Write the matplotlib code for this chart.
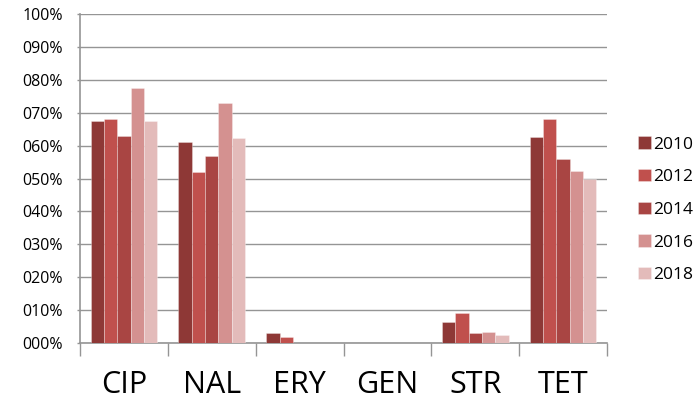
import numpy as np
import matplotlib
matplotlib.use('Agg')
import matplotlib.pyplot as plt
from matplotlib.ticker import FuncFormatter, FixedLocator

plt.rcParams['font.family'] = ['Open Sans', 'DejaVu Sans']

# antibiotics and survey years
drugs = ['CIP', 'NAL', 'ERY', 'GEN', 'STR', 'TET']
years = ['2010', '2012', '2014', '2016', '2018']

# resistance share per year (fraction)
r2010 = [0.677, 0.613, 0.030, 0.0, 0.063, 0.628]
r2012 = [0.681, 0.519, 0.017, 0.0, 0.091, 0.681]
r2014 = [0.630, 0.570, 0.0, 0.0, 0.030, 0.560]
r2016 = [0.776, 0.731, 0.0, 0.0, 0.033, 0.523]
r2018 = [0.674, 0.625, 0.0, 0.0, 0.023, 0.499]

colors = ['#8E3836', '#C0504D', '#A94543', '#D49190', '#E3BBBA']
series = [r2010, r2012, r2014, r2016, r2018]

fig = plt.figure(figsize=(6.95, 4.08), dpi=100)
ax = fig.add_axes([0.1151, 0.160, 0.7583, 0.8045])

x = np.arange(len(drugs))
w = 0.152
for i, (vals, c, yr) in enumerate(zip(series, colors, years)):
    ax.bar(x + (i - 2) * w, vals, width=w, color=c, label=yr,
           edgecolor=(1, 1, 1, 0.35), linewidth=0.6, zorder=3)

ax.set_xlim(-0.5, 5.5)
ax.set_ylim(0, 1.0)
ax.set_yticks(np.arange(0, 1.01, 0.1))
ax.yaxis.set_major_formatter(FuncFormatter(lambda v, p: '%03d%%' % round(v * 100)))
ax.grid(axis='y', color='#959595', linewidth=1.0, zorder=0)

ax.set_xticks(x)
ax.set_xticklabels(drugs, fontsize=22)
ax.xaxis.set_minor_locator(FixedLocator(np.arange(-0.5, 5.6, 1)))
ax.tick_params(axis='x', which='major', length=0, pad=20)
ax.tick_params(axis='x', which='minor', length=9, color='#959595', width=1)
ax.tick_params(axis='y', length=2.5, color='#959595', width=1, labelsize=11.5, pad=10)

for s in ['top', 'right']:
    ax.spines[s].set_visible(False)
ax.spines['left'].set_color('#959595')
ax.spines['bottom'].set_color('#959595')
ax.spines['left'].set_linewidth(1.2)
ax.spines['bottom'].set_linewidth(1.2)

ax.legend(loc='center left', bbox_to_anchor=(1.03, 0.405), frameon=False,
          fontsize=12.5, handlelength=0.7, handleheight=0.7, handletextpad=0.15,
          labelspacing=0.95)

fig.savefig('out.png', dpi=100)
